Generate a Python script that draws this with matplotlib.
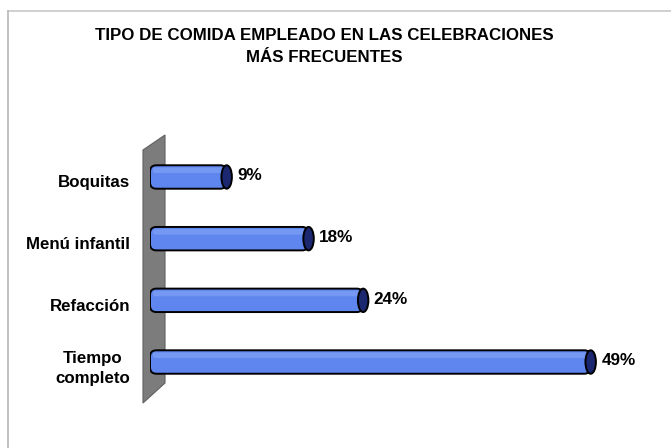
import matplotlib
matplotlib.use('Agg')
import matplotlib.pyplot as plt
from matplotlib.patches import FancyBboxPatch, Ellipse, Polygon
from matplotlib.lines import Line2D

plt.rcParams['font.family'] = ['Liberation Sans', 'DejaVu Sans']

categories = ['Boquitas', 'Menú infantil', 'Refacción', 'Tiempo\ncompleto']
values = [9, 18, 24, 49]
labels = ['9%', '18%', '24%', '49%']

W, H = 671, 448
fig = plt.figure(figsize=(W / 100, H / 100), dpi=100)

# frame around the chart area (top and left edges)
fig.add_artist(Line2D([8 / W, 1], [1 - 11 / H, 1 - 11 / H], color='#c8c8c8', lw=1.2))
fig.add_artist(Line2D([8 / W, 8 / W], [1 - 11 / H, 0], color='#b8b8b8', lw=1.2))

fig.text(324 / W, 1 - 35 / H, 'TIPO DE COMIDA EMPLEADO EN LAS CELEBRACIONES',
         ha='center', va='center', fontsize=12.2, fontweight='bold')
fig.text(324 / W, 1 - 58 / H, 'MÁS FRECUENTES',
         ha='center', va='center', fontsize=12.2, fontweight='bold')

# axes: x=0 at pixel 150, 9.1 px per percent; categories spaced ~61.7 px
px_x = 9.1
px_y = 61.7
x0 = 150
xmax = 55
y_top = 177 - px_y / 2
y_bot = 362 + px_y / 2
ax = fig.add_axes([x0 / W, 1 - y_bot / H, xmax * px_x / W, (y_bot - y_top) / H])
ax.set_xlim(0, xmax)
ax.set_ylim(3.5, -0.5)
ax.axis('off')

# slanted grey wall behind the bars
wall_px = [(143, 150), (165, 135), (165, 383), (143, 403)]
wall = Polygon([(fig.transFigure.inverted().transform((px, H - py))) for px, py in wall_px],
               closed=True, transform=fig.transFigure, facecolor='#7c7c7c',
               edgecolor='#606060', lw=0.8, zorder=0)
fig.add_artist(wall)

bar_h = 0.38
cap_w = 1.15
aspect = (1 / px_y) / (1 / px_x)
for i, (v, lab) in enumerate(zip(values, labels)):
    body_end = v - cap_w / 2
    body = FancyBboxPatch((0, i - bar_h / 2), body_end, bar_h,
                          boxstyle='round,pad=0,rounding_size=0.7',
                          mutation_aspect=aspect, facecolor='#5f86ee',
                          edgecolor='black', lw=1.4, zorder=3)
    ax.add_patch(body)
    # faint highlight along the top of the bar
    ax.add_patch(FancyBboxPatch((0.3, i - bar_h / 2 + 0.035), body_end - 0.3, 0.09,
                                boxstyle='round,pad=0,rounding_size=0.3',
                                mutation_aspect=aspect, facecolor='#7598f2',
                                edgecolor='none', zorder=3.5))
    ax.add_patch(Ellipse((body_end, i), cap_w, bar_h, facecolor='#1b2870',
                         edgecolor='black', lw=1.4, zorder=4))
    ax.text(v + 0.6, i - 0.02, lab, ha='left', va='center', fontsize=12.3,
            fontweight='bold', zorder=5)

for i, cat in enumerate(categories):
    fig.text(130 / W, 1 - (177 + i * px_y + 6) / H, cat, ha='right', va='center',
             multialignment='center', fontsize=12.2, fontweight='bold', linespacing=1.4)

fig.savefig('out.png', dpi=100, facecolor='white')
